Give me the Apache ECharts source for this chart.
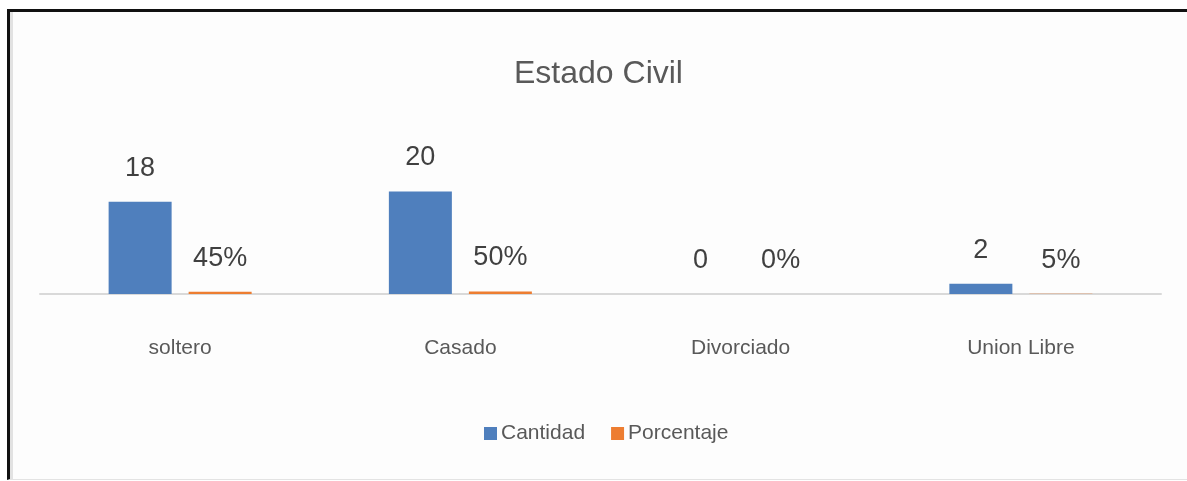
<!DOCTYPE html>
<html>
<head>
<meta charset="utf-8">
<script src="https://cdn.jsdelivr.net/npm/echarts@6/dist/echarts.min.js"></script>
<style>
  html, body { margin: 0; padding: 0; background: #fff; }
  #frame {
    position: absolute; left: 7px; top: 9px;
    width: 1177px; height: 467px;
    border-top: 3px solid #111; border-left: 3px solid #111;
    border-bottom: 1px solid #e3e3e3;
    background: #fdfdfd;
    box-shadow: inset 3px 0 0 #e2e2e2;
  }
  #chart { width: 100%; height: 100%; }
</style>
</head>
<body>
<div id="frame"><div id="chart"></div></div>
<script>
// datos
var categorias = ['soltero', 'Casado', 'Divorciado', 'Union Libre'];
var cantidad = [18, 20, 0, 2];
var porcentaje = [0.45, 0.5, 0, 0.05];

var chart = echarts.init(document.getElementById('chart'));

var labelBase = {
  show: true,
  position: 'top',
  distance: 20,
  fontFamily: 'Liberation Sans',
  fontSize: 27,
  color: '#404040'
};

var option = {
  animation: false,
  title: {
    text: 'Estado Civil',
    left: 'center',
    top: 41,
    textStyle: {
      fontFamily: 'Liberation Sans',
      fontSize: 32,
      fontWeight: 'normal',
      color: '#595959'
    }
  },
  legend: {
    left: 469,
    top: 406,
    itemWidth: 13,
    itemHeight: 13,
    itemGap: 26,
    icon: 'rect',
    textStyle: {
      fontFamily: 'Liberation Sans',
      fontSize: 21,
      color: '#595959',
      padding: [0, 0, 0, -1]
    },
    data: ['Cantidad', 'Porcentaje']
  },
  grid: {
    left: 30,
    right: 26,
    top: 77,
    bottom: 185
  },
  xAxis: {
    type: 'category',
    data: categorias,
    axisLine: { lineStyle: { color: '#d9d9d9', width: 2 } },
    axisTick: { show: false },
    axisLabel: {
      margin: 44,
      fontFamily: 'Liberation Sans',
      fontSize: 21,
      color: '#595959'
    }
  },
  yAxis: {
    type: 'value',
    min: 0,
    max: 40,
    show: false,
    splitLine: { show: false }
  },
  series: [
    {
      name: 'Cantidad',
      type: 'bar',
      barWidth: 63,
      barGap: '27%',
      itemStyle: { color: '#4f7fbd' },
      label: labelBase,
      data: cantidad
    },
    {
      name: 'Porcentaje',
      type: 'bar',
      barWidth: 63,
      itemStyle: { color: '#ed7d31' },
      label: Object.assign({}, labelBase, {
        formatter: function (p) { return Math.round(p.value * 100) + '%'; }
      }),
      data: porcentaje
    }
  ]
};

chart.setOption(option);
</script>
</body>
</html>
